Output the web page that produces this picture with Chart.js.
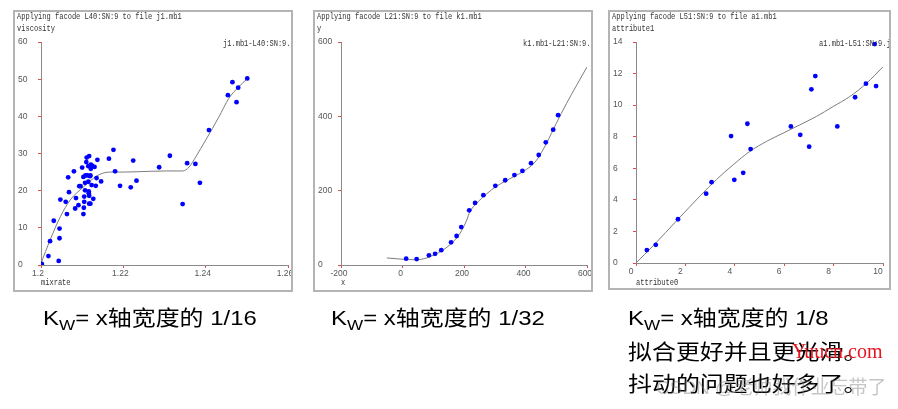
<!DOCTYPE html>
<html>
<head>
<meta charset="utf-8">
<script src="https://cdn.jsdelivr.net/npm/chart.js@4"></script>
<style>
  body { margin: 0; width: 898px; height: 409px; background: #fff; position: relative; overflow: hidden; }
  .panel { position: absolute; border: 2px solid #b4b4b4; background: #fff; overflow: hidden; }
  .panel canvas { position: absolute; left: 0; top: 0; }
  .mono { position: absolute; font-family: "Liberation Mono", monospace; font-size: 8.8px; line-height: 10px;
          transform: scaleX(0.8); transform-origin: 0 0; color: #333; white-space: nowrap; }
  .cap { position: absolute; font-family: "Liberation Sans", "Noto Sans CJK SC", sans-serif; font-size: 21px;
         line-height: 24px; color: #000; white-space: nowrap; transform: scaleX(1.14); transform-origin: 0 0; }
  .cap .cjk { font-family: "Noto Sans CJK SC", sans-serif; }
  .cap sub { font-size: 15px; vertical-align: -5px; line-height: 0; }
</style>
</head>
<body>

<div class="panel" id="p1" style="left:13px;top:10px;width:276px;height:278px;">
  <canvas id="c1" width="292" height="278" style="width:292px;height:278px;"></canvas>
  <div class="mono" style="left:2px;top:0px;">Applying facode L40:SN:9 to file j1.mb1</div>
  <div class="mono" style="left:2px;top:12px;">viscosity</div>
  <div class="mono" style="left:208px;top:27px;">j1.mb1-L40:SN:9.j</div>
  <div class="mono" style="left:26px;top:266px;">mixrate</div>
</div>

<div class="panel" id="p2" style="left:313px;top:10px;width:276px;height:278px;">
  <canvas id="c2" width="292" height="278" style="width:292px;height:278px;"></canvas>
  <div class="mono" style="left:2px;top:0px;">Applying facode L21:SN:9 to file k1.mb1</div>
  <div class="mono" style="left:2px;top:12px;">y</div>
  <div class="mono" style="left:208px;top:27px;">k1.mb1-L21:SN:9.j</div>
  <div class="mono" style="left:26px;top:266px;">x</div>
</div>

<div class="panel" id="p3" style="left:608px;top:10px;width:279px;height:276px;">
  <canvas id="c3" width="295" height="276" style="width:295px;height:276px;"></canvas>
  <div class="mono" style="left:2px;top:0px;">Applying facode L51:SN:9 to file a1.mb1</div>
  <div class="mono" style="left:2px;top:12px;">attribute1</div>
  <div class="mono" style="left:209px;top:27px;">a1.mb1-L51:SN:9.j</div>
  <div class="mono" style="left:26px;top:266px;">attribute0</div>
</div>

<div class="cap" style="left:43px;top:304px;">K<sub>W</sub>= x<span class="cjk">轴宽度的</span> 1/16</div>
<div class="cap" style="left:331px;top:304px;">K<sub>W</sub>= x<span class="cjk">轴宽度的</span> 1/32</div>
<div class="cap" style="left:628px;top:304px;">K<sub>W</sub>= x<span class="cjk">轴宽度的</span> 1/8</div>
<div class="cap" style="left:628px;top:338px;"><span class="cjk">拟合更好并且更光滑。</span></div>
<div class="cap" style="left:628px;top:370px;"><span class="cjk">抖动的问题也好多了。</span></div>
<div style="position:absolute;left:792px;top:340px;font-family:'Liberation Serif',serif;font-size:20px;color:#e8141e;white-space:nowrap;">Yuucn.com</div>
<div style="position:absolute;left:656px;top:372px;font-family:'Liberation Sans','Noto Sans CJK SC',sans-serif;font-size:19px;color:rgba(110,110,110,0.4);white-space:nowrap;">CSDN @<span style="font-family:'Noto Sans CJK SC'">老师我作业忘带了</span></div>

<script>
// panel 1: mixrate vs viscosity, Kw = 1/16
var visX = [1.2002,1.2018,1.2022,1.2031,1.2045,1.2045,1.2043,1.2047,1.2060,1.2063,1.2068,1.2066,1.2080,1.2083,1.2085,
            1.2091,1.2093,1.2096,1.2100,1.2103,1.2103,1.2104,1.2105,1.2105,1.2107,1.2107,1.2108,1.2110,1.2111,1.2113,
            1.2115,1.2115,1.2116,1.2116,1.2117,1.2117,1.2117,1.2119,1.2120,1.2120,1.2121,1.2121,1.2123,1.2124,1.2127,
            1.2130,1.2133,1.2135,1.2137,1.2146,1.2165,1.2176,1.2180,1.2192,1.2218,1.2224,1.2232,1.2287,1.2313,1.2344,
            1.2355,1.2375,1.2386,1.2408,1.2454,1.2465,1.2475,1.2479,1.2501];
var visY = [0.3,2.4,6.4,11.9,9.8,7.2,1.1,17.6,17.0,13.7,19.6,23.6,25.2,15.2,18.0,
            16.1,21.2,21.2,26.2,23.7,13.7,15.4,17.0,18.4,22.1,20.1,24.1,27.7,28.9,24.1,
            26.6,22.4,19.3,19.8,18.6,16.5,29.3,23.9,24.1,16.5,25.9,27.0,21.5,26.7,17.8,
            26.4,21.3,23.4,28.3,22.5,28.6,31.0,25.2,21.3,20.9,28.1,22.7,26.3,29.4,16.4,
            27.4,27.2,22.1,36.3,45.7,49.2,43.8,47.7,50.2];
var visFitX = [1.2,1.2022,1.2047,1.2071,1.2103,1.2127,1.2143,1.2167,1.2199,1.2263,1.2304,1.2344,1.236,1.2376,1.24,1.2432,1.2456,1.248,1.25];
var visFitY = [0.45,6.7,13.0,17.5,21.0,23.3,24.4,25.0,25.0,25.2,25.3,25.3,26.4,29.1,33.6,39.8,44.8,47.9,50.0];
var visXTicks = [1.2,1.22,1.24,1.26];
var visYTicks = [0,10,20,30,40,50,60];

// panel 2: x vs y, Kw = 1/32
var kX = [12,46,86,106,126,158,176,191,217,236,263,302,334,364,390,418,443,466,490,506];
var kY = [17,16,26,30,40,61,78,102,147,167,188,213,228,242,253,274,296,330,364,403];
var kFitX = [-51,-8,46,100,155,187,209,219,241,273,306,360,403,436,468,500,533,600];
var kFitY = [19,16,14,26,55,85,121,143,166,191,212,237,257,282,327,381,434,533];
var kXTicks = [-200,0,200,400,600];
var kYTicks = [0,200,400,600];

// panel 3: attribute0 vs attribute1, Kw = 1/8
var aX = [0.44,0.80,1.70,2.84,3.06,3.85,3.98,4.34,4.51,4.64,6.27,6.65,7.01,7.10,7.26,8.15,8.87,9.31,9.72,9.66];
var aY = [0.82,1.15,2.77,4.39,5.12,8.04,5.27,5.71,8.82,7.22,8.65,8.12,7.37,11.0,11.84,8.65,10.5,11.36,11.21,13.87];
var aFitX = [0,0.7,1.7,2.59,3.26,3.94,4.61,5.28,5.96,6.63,7.3,7.98,8.65,9.33,10];
var aFitY = [0,1.1,2.77,4.24,5.29,6.23,7.07,7.70,8.23,8.75,9.28,9.91,10.54,11.38,12.43];
var aXTicks = [0,2,4,6,8,10];
var aYTicks = [0,2,4,6,8,10,12,14];

function pairs(xs, ys) {
    var out = [];
    for (var i = 0; i < xs.length; i++) out.push({x: xs[i], y: ys[i]});
    return out;
}

function makeChart(id, px, py, fx, fy, xTicks, yTicks, padRight, xHeight, xShift) {
    var ctx = document.getElementById(id).getContext("2d");
    var tickFont = {family: "Liberation Sans", size: 8.5};
    var plain = function(v) { return String(v); };
    return new Chart(ctx, {
        type: "scatter",
        data: {
            datasets: [
                {
                    data: pairs(px, py),
                    backgroundColor: "#0000ff",
                    borderColor: "#0000ff",
                    pointRadius: 2.4,
                    borderWidth: 0,
                    order: 1
                },
                {
                    data: pairs(fx, fy),
                    showLine: true,
                    pointRadius: 0,
                    borderColor: "#7c7c7c",
                    borderWidth: 1,
                    cubicInterpolationMode: "monotone",
                    order: 2
                }
            ]
        },
        options: {
            responsive: false,
            animation: false,
            layout: {padding: {left: 3, top: 30, right: padRight, bottom: 0}},
            plugins: {legend: {display: false}, tooltip: {enabled: false}},
            scales: {
                x: {
                    type: "linear",
                    min: xTicks[0],
                    max: xTicks[xTicks.length - 1],
                    afterBuildTicks: function(s) { s.ticks = xTicks.map(function(v) { return {value: v}; }); },
                    afterFit: function(s) { s.height = xHeight; },
                    grid: {drawOnChartArea: false, tickLength: 3, tickColor: "#e24a4a"},
                    border: {color: "#8a8a8a", width: 1},
                    ticks: {padding: 1, color: "#555", font: tickFont, maxRotation: 0, autoSkip: false,
                            labelOffset: xShift, callback: plain}
                },
                y: {
                    type: "linear",
                    min: yTicks[0],
                    max: yTicks[yTicks.length - 1],
                    afterBuildTicks: function(s) { s.ticks = yTicks.map(function(v) { return {value: v}; }); },
                    afterFit: function(s) { s.width = 23; },
                    grid: {drawOnChartArea: false, tickLength: 3, tickColor: "#e24a4a"},
                    border: {color: "#8a8a8a", width: 1},
                    ticks: {padding: 0, color: "#555", font: tickFont, crossAlign: "far", callback: plain}
                }
            }
        }
    });
}

makeChart("c1", visX, visY, visFitX, visFitY, visXTicks, visYTicks, 19, 25, -3);
makeChart("c2", kX, kY, kFitX, kFitY, kXTicks, kYTicks, 20, 25, -2);
makeChart("c3", aX, aY, aFitX, aFitY, aXTicks, aYTicks, 22, 25, -5);
</script>
</body>
</html>
